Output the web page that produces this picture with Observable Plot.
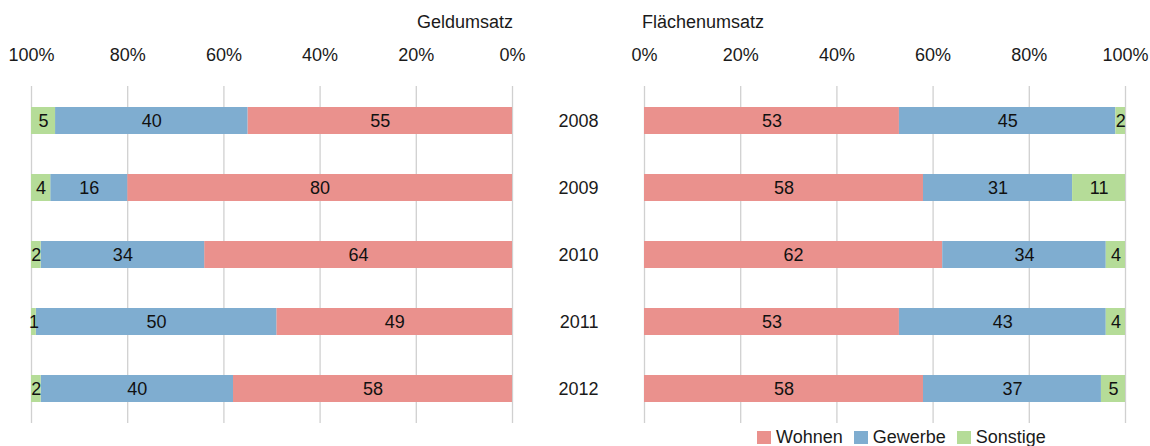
<!DOCTYPE html>
<html><head><meta charset="utf-8">
<script src="https://cdn.jsdelivr.net/npm/d3@7"></script>
<script src="https://cdn.jsdelivr.net/npm/@observablehq/plot@0.6"></script>
<style>
body{margin:0;background:#fff;}
#wrap{position:relative;width:1150px;height:446px;overflow:hidden;font-family:"Liberation Sans",Arial,sans-serif;color:#1a1a1a;}
.pl{position:absolute;top:0;overflow:visible;}
.title{position:absolute;font-size:18px;line-height:18px;}
.legend{position:absolute;top:428px;left:757px;display:flex;align-items:center;font-size:18px;line-height:18px;}
.legend span.sw{display:inline-block;width:14px;height:13px;margin-right:5px;}
.legend .it{display:flex;align-items:center;margin-right:11px;}
</style></head>
<body><div id="wrap"></div>
<script>
const years = ["2008","2009","2010","2011","2012"];
const types = ["Wohnen","Gewerbe","Sonstige"];
const colors = ["#EA918D","#7FADD0","#B5DC98"];
const geldWohnen   = [55,80,64,49,58];
const geldGewerbe  = [40,16,34,50,40];
const geldSonstige = [5,4,2,1,2];
const flWohnen     = [53,58,62,53,58];
const flGewerbe    = [45,31,34,43,37];
const flSonstige   = [2,11,4,4,5];
const ticks = [0,20,40,60,80,100];

function rows(w,g,s){
  const out=[];
  years.forEach((y,i)=>{
    out.push({year:y,type:"Wohnen",value:w[i]});
    out.push({year:y,type:"Gewerbe",value:g[i]});
    out.push({year:y,type:"Sonstige",value:s[i]});
  });
  return out;
}
const geld = rows(geldWohnen,geldGewerbe,geldSonstige);
const flaeche = rows(flWohnen,flGewerbe,flSonstige);
const font = '"Liberation Sans",Arial,sans-serif';

function panel(data, opts){
  return Plot.plot({
    width: opts.width, height: 446,
    marginLeft: opts.ml, marginRight: opts.mr, marginTop: 86, marginBottom: 23,
    style:{fontFamily:font, fontSize:"18px", color:"#1a1a1a", background:"transparent", overflow:"visible"},
    x:{domain: opts.reverse ? [100,0] : [0,100], ticks, tickFormat:d=>d+"%"},
    y:{domain: years, paddingInner: 0.6, paddingOuter: 0.3},
    color:{domain: types, range: colors},
    marks:[
      Plot.gridX(ticks,{stroke:"#d0d0d0", strokeOpacity:1, strokeWidth:1.3}),
      Plot.axisX({anchor:"top", ticks, tickFormat:d=>d+"%", tickSize:0, tickPadding:26, label:null, fontSize:18}),
      opts.yaxis ? Plot.axisY({anchor:"left", tickSize:0, tickPadding:46, label:null, fontSize:18}) : Plot.axisY({ticks:[], label:null}),
      Plot.barX(data, Plot.stackX({x:"value", y:"year", fill:"type", order: types})),
      Plot.text(data, Plot.stackX({x:"value", y:"year", z:"type", order: types, text:"value", fill:"#111", fontSize:18}))
    ]
  });
}

const wrap = document.getElementById("wrap");
const left = panel(geld,{width:530, ml:31, mr:18, reverse:true, yaxis:false});
left.classList.add("pl"); left.style.left="0px";
const right = panel(flaeche,{width:620, ml:114, mr:25, reverse:false, yaxis:true});
right.classList.add("pl"); right.style.left="530px";
wrap.appendChild(left); wrap.appendChild(right);

const t1=document.createElement("div"); t1.className="title"; t1.textContent="Geldumsatz";
t1.style.right=(1150-513)+"px"; t1.style.top="13px"; wrap.appendChild(t1);
const t2=document.createElement("div"); t2.className="title"; t2.textContent="Flächenumsatz";
t2.style.left="642px"; t2.style.top="13px"; wrap.appendChild(t2);

const lg=document.createElement("div"); lg.className="legend";
types.forEach((t,i)=>{
  const it=document.createElement("div"); it.className="it";
  const sw=document.createElement("span"); sw.className="sw"; sw.style.background=colors[i];
  it.appendChild(sw); it.appendChild(document.createTextNode(t)); lg.appendChild(it);
});
wrap.appendChild(lg);
</script></body></html>
